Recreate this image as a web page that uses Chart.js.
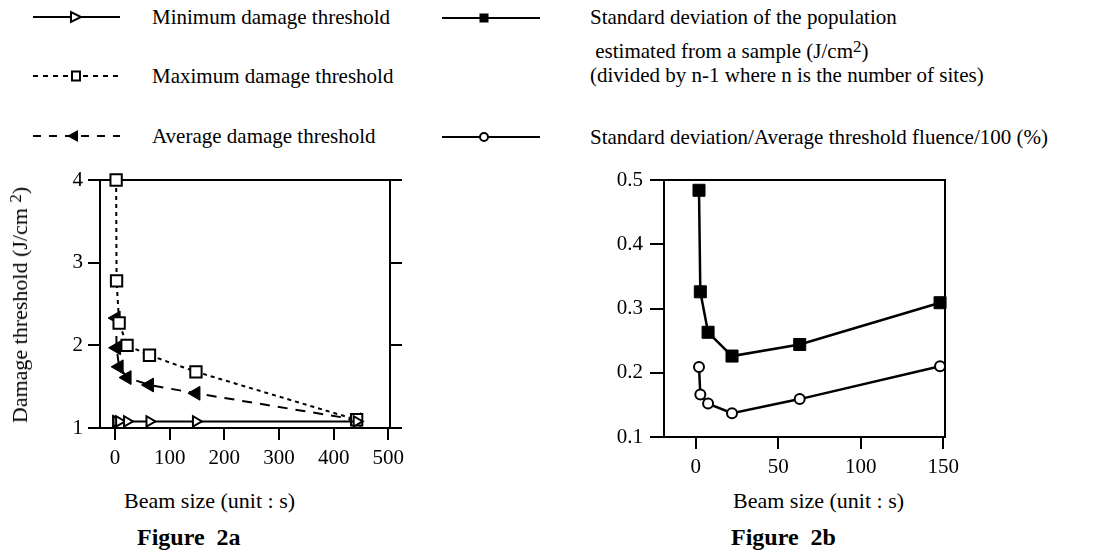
<!DOCTYPE html>
<html>
<head>
<meta charset="utf-8">
<script src="https://cdn.jsdelivr.net/npm/chart.js@4/dist/chart.umd.min.js"></script>
<style>
  body { margin: 0; background: #fff; width: 1097px; height: 552px; position: relative; overflow: hidden;
         font-family: "Liberation Serif", "Times New Roman", serif; color: #000; }
  .t { position: absolute; font-size: 21px; line-height: 24px; white-space: pre; }
  .b { font-weight: bold; font-size: 24px; }
  sup { font-size: 17px; vertical-align: 6px; line-height: 0; }
  canvas { position: absolute; }
  #ytitle { position: absolute; left: 20px; top: 305px; font-size: 22px; white-space: pre;
            transform: translate(-50%, -50%) rotate(-90deg); }
</style>
</head>
<body>

<!-- legende (amostras de linha) -->
<svg width="1097" height="160" style="position:absolute;left:0;top:0">
  <line x1="33" y1="17" x2="120" y2="17" stroke="#000" stroke-width="2"/>
  <polygon points="71,12 71,22 81,17" fill="#fff" stroke="#000" stroke-width="2"/>
  <line x1="33" y1="76" x2="120" y2="76" stroke="#000" stroke-width="2" stroke-dasharray="5,5"/>
  <rect x="72" y="71.5" width="8" height="9" fill="#fff" stroke="#000" stroke-width="2"/>
  <line x1="33" y1="136" x2="120" y2="136" stroke="#000" stroke-width="2" stroke-dasharray="8,8"/>
  <polygon points="78,130 78,142 67,136" fill="#000"/>
  <line x1="442" y1="18" x2="540" y2="18" stroke="#000" stroke-width="2"/>
  <rect x="479.5" y="13.5" width="9" height="9" fill="#000"/>
  <line x1="442" y1="137" x2="540" y2="137" stroke="#000" stroke-width="2"/>
  <circle cx="484" cy="137" r="4" fill="#fff" stroke="#000" stroke-width="2"/>
</svg>

<div class="t" style="left:152px;top:5px">Minimum damage threshold</div>
<div class="t" style="left:152px;top:64px">Maximum damage threshold</div>
<div class="t" style="left:152px;top:124px">Average damage threshold</div>
<div class="t" style="left:590px;top:5px">Standard deviation of the population</div>
<div class="t" style="left:590px;top:39px"> estimated from a sample (J/cm<sup>2</sup>)</div>
<div class="t" style="left:590px;top:63px">(divided by n-1 where n is the number of sites)</div>
<div class="t" style="left:590px;top:125px">Standard deviation/Average threshold fluence/100 (%)</div>

<canvas id="chartA" width="430" height="318" style="left:0;top:160px"></canvas>
<canvas id="chartB" width="420" height="327" style="left:560px;top:160px"></canvas>

<div id="ytitle">Damage threshold (J/cm <sup>2</sup>)</div>
<div class="t" style="left:124px;top:489px;font-size:22px">Beam size (unit : s)</div>
<div class="t" style="left:733px;top:489px;font-size:22px">Beam size (unit : s)</div>
<div class="t b" style="left:137px;top:525px">Figure  2a</div>
<div class="t b" style="left:731px;top:525px">Figure  2b</div>

<script>
// dados
var beamSizeA = [2, 2.8, 7.5, 22, 63, 148, 442];
var minThreshold = [1.08, 1.08, 1.08, 1.08, 1.08, 1.08, 1.08];
var maxThreshold = [4.0, 2.78, 2.27, 2.0, 1.88, 1.68, 1.10];
var avgThreshold = [2.33, 1.97, 1.74, 1.61, 1.52, 1.42, 1.10];

var beamSizeB = [2, 2.8, 7.5, 22, 63, 148];
var stdDev = [0.484, 0.326, 0.263, 0.226, 0.244, 0.309];
var stdRatio = [0.209, 0.166, 0.152, 0.137, 0.159, 0.210];

var xTicksA = [0, 100, 200, 300, 400, 500];
var yTicksA = [1, 2, 3, 4];
var xTicksB = [0, 50, 100, 150];
var yTicksB = [0.1, 0.2, 0.3, 0.4, 0.5];

var fonte = { family: '"Liberation Serif", "Times New Roman", serif', size: 21 };

function pares(xs, ys) {
    return xs.map(function (x, i) { return { x: x, y: ys[i] }; });
}

function fixarTicks(lista) {
    return function (scale) { scale.ticks = lista.map(function (v) { return { value: v }; }); };
}

// moldura em volta da area do grafico
var moldura = {
    id: 'moldura',
    beforeDatasetsDraw: function (chart) {
        var a = chart.chartArea, c = chart.ctx;
        c.save();
        c.strokeStyle = '#000';
        c.lineWidth = 2;
        c.strokeRect(a.left, a.top, a.right - a.left, a.bottom - a.top);
        c.restore();
    }
};

function eixo(extra) {
    var base = {
        type: 'linear',
        border: { display: false },
        grid: { drawOnChartArea: false, drawTicks: true, tickLength: 12, color: '#000', lineWidth: 2 },
        ticks: { color: '#000', font: fonte, padding: 6, maxRotation: 0 }
    };
    return Object.assign(base, extra);
}

/* Figura 2a */
new Chart(document.getElementById('chartA').getContext('2d'), {
    type: 'scatter',
    data: {
        datasets: [{
            label: 'Minimum damage threshold',
            data: pares(beamSizeA, minThreshold),
            showLine: true, borderColor: '#000', borderWidth: 2,
            pointStyle: 'triangle', rotation: 90, pointRadius: 6,
            pointBackgroundColor: '#fff', pointBorderColor: '#000', pointBorderWidth: 2,
            clip: false
        }, {
            label: 'Maximum damage threshold',
            data: pares(beamSizeA, maxThreshold),
            showLine: true, borderColor: '#000', borderWidth: 2, borderDash: [4, 4],
            pointStyle: 'rect', pointRadius: 8,
            pointBackgroundColor: '#fff', pointBorderColor: '#000', pointBorderWidth: 2,
            clip: false
        }, {
            label: 'Average damage threshold',
            data: pares(beamSizeA, avgThreshold),
            showLine: true, borderColor: '#000', borderWidth: 2, borderDash: [10, 8],
            pointStyle: 'triangle', rotation: 270, pointRadius: 8,
            pointBackgroundColor: '#000', pointBorderColor: '#000', pointBorderWidth: 1,
            clip: false
        }]
    },
    options: {
        responsive: false, animation: false,
        layout: { padding: { top: 20, right: 26, left: 0, bottom: 0 } },
        plugins: { legend: { display: false }, tooltip: { enabled: false } },
        scales: {
            x: eixo({ min: -27.5, max: 503, afterBuildTicks: fixarTicks(xTicksA),
                      afterFit: function (s) { s.height = 50; } }),
            y: eixo({ min: 1, max: 4, position: 'left', afterBuildTicks: fixarTicks(yTicksA),
                      ticks: { color: '#000', font: fonte, padding: 5 },
                      afterFit: function (s) { s.width = 100; } }),
            y2: eixo({ min: 1, max: 4, position: 'right', afterBuildTicks: fixarTicks(yTicksA),
                       ticks: { display: false },
                       afterFit: function (s) { s.width = 14; } })
        }
    },
    plugins: [moldura]
});

/* Figura 2b */
new Chart(document.getElementById('chartB').getContext('2d'), {
    type: 'scatter',
    data: {
        datasets: [{
            label: 'Standard deviation of the population',
            data: pares(beamSizeB, stdDev),
            showLine: true, borderColor: '#000', borderWidth: 2.5,
            pointStyle: 'rect', pointRadius: 8.5,
            pointBackgroundColor: '#000', pointBorderColor: '#000', pointBorderWidth: 1,
            clip: false
        }, {
            label: 'Standard deviation/Average threshold fluence/100 (%)',
            data: pares(beamSizeB, stdRatio),
            showLine: true, borderColor: '#000', borderWidth: 2.5,
            pointStyle: 'circle', pointRadius: 5,
            pointBackgroundColor: '#fff', pointBorderColor: '#000', pointBorderWidth: 2,
            clip: false
        }]
    },
    options: {
        responsive: false, animation: false,
        layout: { padding: { top: 20, right: 35, left: 0, bottom: 0 } },
        plugins: { legend: { display: false }, tooltip: { enabled: false } },
        scales: {
            x: eixo({ min: -19.2, max: 151, afterBuildTicks: fixarTicks(xTicksB),
                      afterFit: function (s) { s.height = 50; } }),
            y: eixo({ min: 0.1, max: 0.5, position: 'left', afterBuildTicks: fixarTicks(yTicksB),
                      grid: { drawOnChartArea: false, drawTicks: true, tickLength: 14, color: '#000', lineWidth: 2 },
                      ticks: { color: '#000', font: fonte, padding: 7,
                               callback: function (v) { return v.toFixed(1); } },
                      afterFit: function (s) { s.width = 104; } })
        }
    },
    plugins: [moldura]
});
</script>
</body>
</html>
